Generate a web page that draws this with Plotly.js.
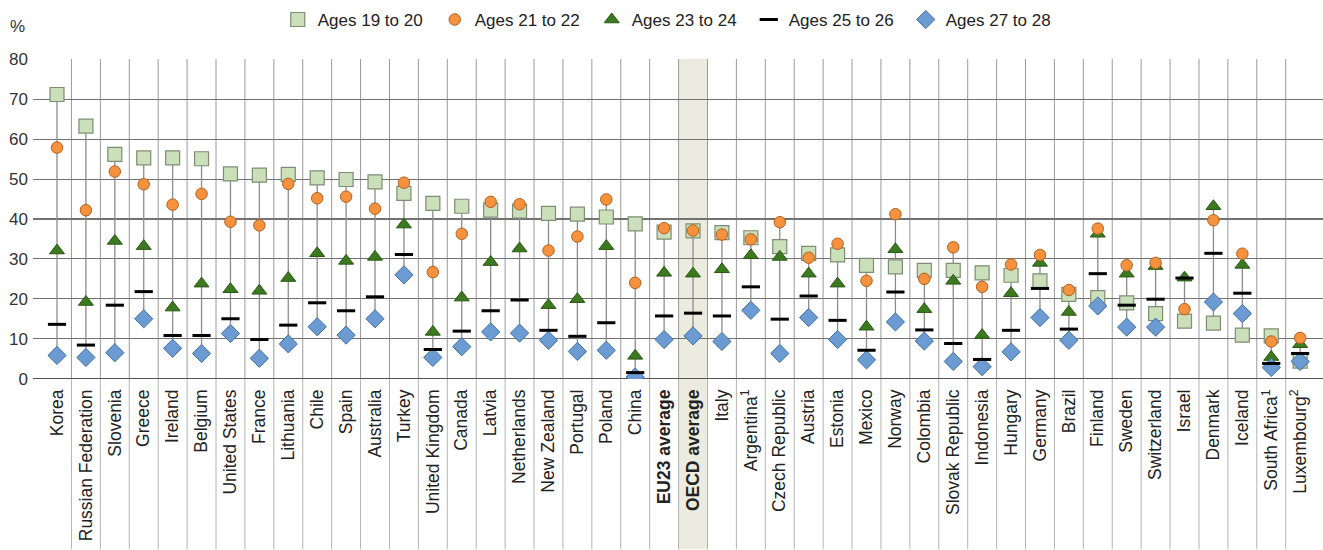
<!DOCTYPE html>
<html>
<head>
<meta charset="utf-8">
<script src="https://cdn.plot.ly/plotly-3.0.1.min.js"></script>
<style>html,body{margin:0;padding:0;background:#fff;}#chart{width:1323px;height:550px;}</style>
</head>
<body>
<div id="chart"></div>
<script>
const categories = ["Korea","Russian Federation","Slovenia","Greece","Ireland","Belgium","United States","France","Lithuania","Chile","Spain","Australia","Turkey","United Kingdom","Canada","Latvia","Netherlands","New Zealand","Portugal","Poland","China","EU23 average","OECD average","Italy","Argentina1","Czech Republic","Austria","Estonia","Mexico","Norway","Colombia","Slovak Republic","Indonesia","Hungary","Germany","Brazil","Finland","Sweden","Switzerland","Israel","Denmark","Iceland","South Africa1","Luxembourg2"];
const tickLabels = ["Korea","Russian Federation","Slovenia","Greece","Ireland","Belgium","United States","France","Lithuania","Chile","Spain","Australia","Turkey","United Kingdom","Canada","Latvia","Netherlands","New Zealand","Portugal","Poland","China","<b>EU23 average</b>","<b>OECD average</b>","Italy","Argentina<sup>1</sup>","Czech Republic","Austria","Estonia","Mexico","Norway","Colombia","Slovak Republic","Indonesia","Hungary","Germany","Brazil","Finland","Sweden","Switzerland","Israel","Denmark","Iceland","South Africa<sup>1</sup>","Luxembourg<sup>2</sup>"];
const ages19to20 = [71.2,63.3,56.2,55.3,55.3,55.1,51.3,51.0,51.2,50.3,49.9,49.3,46.4,43.9,43.2,42.2,42.0,41.4,41.2,40.5,38.8,36.7,37.0,36.6,35.3,33.1,31.4,31.0,28.4,28.0,27.1,27.1,26.5,25.9,24.5,21.1,20.3,19.0,16.3,14.4,13.9,10.9,10.7,4.4];
const ages21to22 = [57.9,42.2,51.9,48.7,43.6,46.3,39.3,38.4,48.8,45.2,45.6,42.6,49.1,26.7,36.3,44.3,43.7,32.1,35.6,44.9,24.0,37.7,37.1,36.1,34.9,39.2,30.3,33.8,24.5,41.2,25.0,32.9,23.0,28.6,31.0,22.2,37.6,28.4,29.0,17.4,39.7,31.3,9.3,10.2];
const ages23to24 = [32.1,19.2,34.5,33.2,17.8,23.8,22.4,22.0,25.2,31.4,29.5,30.5,38.6,11.7,20.3,29.2,32.6,18.4,19.9,33.2,5.7,26.5,26.3,27.4,30.9,30.5,26.3,23.8,13.0,32.4,17.4,24.5,10.9,21.4,29.0,16.7,36.3,26.3,28.2,25.3,43.2,28.5,5.4,8.6];
const ages25to26 = [13.6,8.4,18.4,21.8,10.8,10.8,15.0,9.8,13.4,19.0,17.0,20.5,31.1,7.3,11.9,17.0,19.7,12.1,10.6,14.0,1.5,15.7,16.4,15.7,23.0,14.9,20.7,14.6,7.1,21.7,12.2,8.8,4.8,12.1,22.6,12.4,26.3,18.4,19.9,25.2,31.4,21.4,3.8,6.3];
const ages27to28 = [5.8,5.3,6.5,15.0,7.6,6.3,11.3,5.1,8.7,13.0,10.9,15.0,26.0,5.3,8.0,11.7,11.4,9.6,6.8,7.1,0.4,9.8,10.7,9.3,17.1,6.3,15.3,9.8,4.7,14.2,9.4,4.3,3.0,6.7,15.3,9.6,18.2,12.9,12.9,null,19.2,16.3,2.8,4.3];
const seriesNames = ["Ages 19 to 20","Ages 21 to 22","Ages 23 to 24","Ages 25 to 26","Ages 27 to 28"];
const highlighted = "OECD average";

const allSeries = [ages19to20, ages21to22, ages23to24, ages25to26, ages27to28];
const rx = [], ry = [];
categories.forEach((c, i) => {
  const vals = allSeries.map(s => s[i]).filter(v => v !== null && v !== undefined);
  rx.push(c, c, null);
  ry.push(Math.min(...vals), Math.max(...vals), null);
});

const font = "Liberation Sans, Arial, sans-serif";

const traces = [
  {x: rx, y: ry, type: "scatter", mode: "lines", line: {color: "#8c8c8c", width: 1.3}, showlegend: false, hoverinfo: "skip"},
  {x: categories, y: ages19to20, name: seriesNames[0], legendrank: 1, type: "scatter", mode: "markers",
   marker: {symbol: "square", size: 14, color: "#cadfba", line: {color: "#7d8e72", width: 1.2}}},
  {x: categories, y: ages23to24, name: seriesNames[2], legendrank: 3, type: "scatter", mode: "markers",
   marker: {symbol: "triangle-up", size: 13, color: "#3b7a1e", line: {color: "#2b5714", width: 1}}},
  {x: categories, y: ages21to22, name: seriesNames[1], legendrank: 2, type: "scatter", mode: "markers",
   marker: {symbol: "circle", size: 11.5, color: "#f6923d", line: {color: "#b0611f", width: 1}}},
  {x: categories, y: ages27to28, name: seriesNames[4], legendrank: 5, type: "scatter", mode: "markers",
   marker: {symbol: "diamond", size: 14, color: "#6b9bd2", line: {color: "#41709f", width: 1}}},
  {x: categories, y: ages25to26, name: seriesNames[3], legendrank: 4, type: "scatter", mode: "markers",
   marker: {symbol: "line-ew", size: 13, color: "#000", line: {color: "#000", width: 3}}}
];

const labelBottom = -0.532;
const shapes = [];
const hi = categories.indexOf(highlighted);
shapes.push({type: "rect", xref: "x", yref: "paper", x0: hi - 0.5, x1: hi + 0.5, y0: labelBottom, y1: 1,
  fillcolor: "#ecebdf", line: {width: 0}, layer: "below"});
for (let i = 0; i < categories.length - 1; i++) {
  shapes.push({type: "line", xref: "x", yref: "paper", x0: i + 0.5, x1: i + 0.5, y0: 0, y1: 1,
    line: {color: "#9a9a9a", width: 1}, layer: "between"});
  shapes.push({type: "line", xref: "x", yref: "paper", x0: i + 0.5, x1: i + 0.5, y0: labelBottom, y1: 0,
    line: {color: "#b4b4b4", width: 1}, layer: "between"});
}

const layout = {
  width: 1323, height: 550,
  margin: {l: 33, r: 0, t: 59, b: 171, pad: 0},
  paper_bgcolor: "#fff", plot_bgcolor: "rgba(0,0,0,0)",
  showlegend: true,
  legend: {orientation: "h", x: 0.494, xanchor: "center", y: 1.122, yanchor: "middle",
    font: {family: font, size: 17, color: "#222"}, bgcolor: "rgba(0,0,0,0)", entrywidth: 112},
  xaxis: {type: "category", range: [-0.83, 43.79], tickmode: "array", tickvals: categories, ticktext: tickLabels,
    tickangle: -90, tickfont: {family: font, size: 17.5, color: "#222"}, showgrid: false, zeroline: false,
    showline: false, ticks: "", ticklabelstandoff: 6, fixedrange: true},
  yaxis: {range: [-0.1, 80.1], dtick: 10, tick0: 0, showgrid: true, gridcolor: "#727272", gridwidth: 1.2,
    zeroline: true, zerolinecolor: "#555", zerolinewidth: 1.6, showline: false, ticks: "",
    tickfont: {family: font, size: 17, color: "#333"}, ticklabelstandoff: 4, fixedrange: true},
  shapes: shapes,
  annotations: [{text: "%", xref: "paper", yref: "paper", x: -0.012, y: 1.103, xanchor: "center", yanchor: "middle",
    showarrow: false, font: {family: font, size: 17, color: "#333"}}]
};

Plotly.newPlot("chart", traces, layout, {displayModeBar: false, staticPlot: true});
</script>
</body>
</html>
